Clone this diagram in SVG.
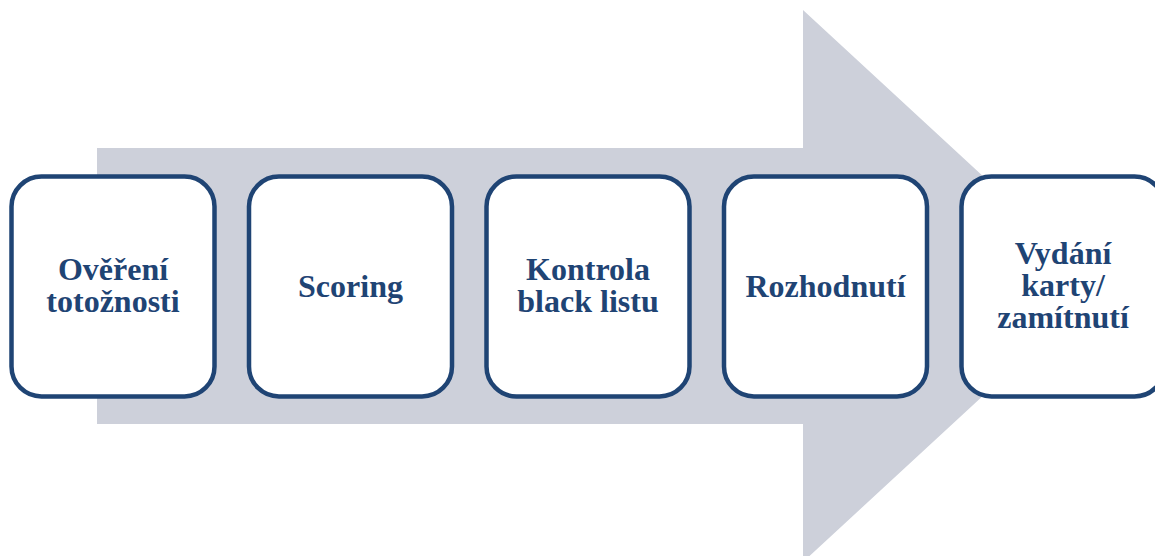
<svg xmlns="http://www.w3.org/2000/svg" width="1155" height="556" viewBox="0 0 1155 556">
<style>
.box{fill:#ffffff;stroke:#1f4474;stroke-width:4.5}
.t{font-family:"Liberation Serif","Times New Roman",serif;font-weight:bold;font-size:32px;fill:#1f4474;text-anchor:middle}
</style>
<rect width="1155" height="556" fill="#ffffff"/>
<g id="arrow">
<polygon points="97,148 803,148 803,10 1102,286 803,562 803,424 97,424" fill="#cdd0da"/>
</g>
<g id="connectors"></g>
<g id="n1">
<rect class="box" x="11.5" y="176.5" width="203" height="220" rx="30"/>
<text class="t" x="113" y="280">Ověření</text>
<text class="t" x="113" y="312">totožnosti</text>
</g>
<g id="n2">
<rect class="box" x="249" y="176.5" width="203" height="220" rx="30"/>
<text class="t" x="350.5" y="297">Scoring</text>
</g>
<g id="n3">
<rect class="box" x="486.5" y="176.5" width="203" height="220" rx="30"/>
<text class="t" x="588" y="280">Kontrola</text>
<text class="t" x="588" y="312">black listu</text>
</g>
<g id="n4">
<rect class="box" x="724" y="176.5" width="203" height="220" rx="30"/>
<text class="t" x="825.5" y="297">Rozhodnutí</text>
</g>
<g id="n5">
<rect class="box" x="961.5" y="176.5" width="203" height="220" rx="30"/>
<text class="t" x="1063" y="264">Vydání</text>
<text class="t" x="1063" y="296">karty/</text>
<text class="t" x="1063" y="328">zamítnutí</text>
</g>
</svg>
